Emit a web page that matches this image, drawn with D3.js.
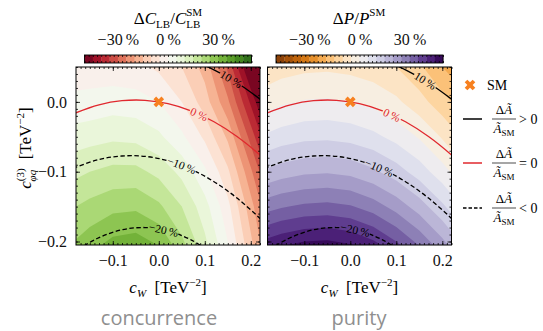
<!DOCTYPE html>
<html>
<head>
<meta charset="utf-8">
<script src="https://cdn.jsdelivr.net/npm/d3@7"></script>
<style>
  body { margin: 0; background: #fff; }
  text { font-family: "Liberation Serif", serif; }
</style>
</head>
<body>
<svg id="chart" width="543" height="331"></svg>
<script>
// sample grid (TeV^-2) for the filled maps
const cWGrid = [-0.2, -0.15, -0.1, -0.05, 0, 0.05, 0.1, 0.15, 0.2, 0.25];
const cPhiGrid = [0.1, 0.05, 0, -0.05, -0.1, -0.15, -0.2, -0.25];

// ΔC_LB / C_LB^SM in %, one row per cPhiGrid entry
const concurrenceGrid = [
  [-8, -8.5, -9.5, -11, -13, -17, -26, -42, -65, -90],
  [-2.5, -2.5, -3, -3.5, -6, -10, -17, -31, -52, -75],
  [1, 1.5, 2.5, 2, 0, -5, -12.5, -24, -41, -60],
  [7, 8, 9, 8.5, 6, 1, -6, -16, -32, -49],
  [13, 15, 16.5, 16.5, 13.5, 8.5, 1, -9, -24, -40],
  [19, 21.5, 23.5, 24, 21, 15, 7, -3.5, -18, -33],
  [24, 27.5, 31, 32, 29, 21, 11, 0, -14, -29],
  [29, 33.5, 38, 39.5, 36.5, 28, 16.5, 4, -10, -25]
];

// ΔP / P^SM in %
const purityGrid = [
  [-13.2, -12.0, -11.3, -11.1, -11.5, -12.5, -14.5, -18, -24, -30],
  [-8.8, -7.1, -6.2, -5.9, -6.5, -7.7, -10, -14, -20, -25],
  [-2.9, -0.8, 0.4, 0.7, 0.0, -1.5, -4, -8, -13, -18],
  [5, 7.3, 8.7, 9, 8.2, 6.3, 3.3, -0.5, -5.5, -11],
  [15, 17.5, 19, 19.5, 18.5, 16, 12.3, 7.6, 2, -4],
  [27, 29.5, 31, 31.5, 30.5, 27.5, 23, 17.5, 11, 4],
  [40, 43, 45, 45.5, 44, 40.5, 35, 28.5, 21, 13],
  [53, 57, 59, 60, 58, 54.5, 48.5, 41, 32.5, 23.5]
];

// ΔÃ/Ã_SM contour lines
const plus10CW = [0.07, 0.12, 0.17, 0.22, 0.25];
const plus10C = [0.060, 0.046, 0.0275, 0.004, -0.012];
const zeroCW = [-0.2, -0.18, -0.13, -0.08, -0.03, 0.02, 0.07, 0.12, 0.17, 0.22, 0.25];
const zeroC = [-0.0216, -0.0156, -0.0042, 0.0017, 0.0023, -0.0026, -0.0129, -0.0285, -0.0496, -0.076, -0.0945];
const minus10CW = [-0.2, -0.18, -0.13, -0.08, -0.03, 0.02, 0.07, 0.12, 0.17, 0.22, 0.25];
const minus10C = [-0.0995, -0.0936, -0.0826, -0.0775, -0.078, -0.0844, -0.0964, -0.1143, -0.1378, -0.167, -0.1875];
const minus20CW = [-0.2, -0.18, -0.13, -0.08, -0.03, 0.02, 0.07, 0.12];
const minus20C = [-0.2236, -0.2136, -0.1944, -0.1832, -0.18, -0.1848, -0.1976, -0.2184];

const levelStep = 5;
const cbarTicks = [-30, 0, 30];
const xTicks = [-0.1, 0, 0.1, 0.2];
const yTicks = [0, -0.1, -0.2];

const concurrenceColors = d3.piecewise(d3.interpolateRgb, [
  "#67001f", "#b2182b", "#d6604d", "#f4a582", "#fddbc7", "#f7f7f7",
  "#e6f5d0", "#b8e186", "#7fbc41", "#4d9221", "#276419"]);
// orange for negative, purple for positive
const purityColors = t => d3.interpolatePuOr(1 - t);

const W = 184, H = 178, top0 = 67;
const svg = d3.select("#chart");

const x = d3.scaleLinear().domain([-0.18, 0.22]).range([0, W]);
const y = d3.scaleLinear().domain([-0.205, 0.05]).range([H, 0]);
const level = d3.scaleLinear().domain([-50, 50]).range([0, 1]);

const lines = [
  {cw: plus10CW, c: plus10C, label: "10\u2009%", stroke: "#000", dash: null},
  {cw: zeroCW, c: zeroC, label: "0\u2009%", stroke: "#e0282e", dash: null},
  {cw: minus10CW, c: minus10C, label: "\u221210\u2009%", stroke: "#000", dash: "4.5,2.5"},
  {cw: minus20CW, c: minus20C, label: "\u221220\u2009%", stroke: "#000", dash: "4.5,2.5"}
];

const panels = [
  {x0: 76, grid: concurrenceGrid, color: concurrenceColors, name: "concurrence",
   labelAt: [0.157, 0.087, 0.05, 0.01], nameX: 159},
  {x0: 267.5, grid: purityGrid, color: purityColors, name: "purity",
   labelAt: [0.163, 0.09, 0.063, 0.01], nameX: 359}
];

const thresholds = d3.range(-50, 50, levelStep);
const bandColor = (color, t) => color(level(t + levelStep / 2));

panels.forEach((p, pi) => {
  const g = svg.append("g").attr("transform", `translate(${p.x0},${top0})`);
  const defs = g.append("defs");
  defs.append("clipPath").attr("id", "clip" + pi)
    .append("rect").attr("width", W).attr("height", H);

  // filled bands
  const nx = cWGrid.length, ny = cPhiGrid.length;
  const th = thresholds.slice();
  th[0] = -1000;
  const contours = d3.contours().size([nx, ny]).thresholds(th)(p.grid.flat());
  const step = 0.05;
  const proj = d3.geoTransform({
    point(gx, gy) {
      this.stream.point(x(cWGrid[0] + (gx - 0.5) * step), y(cPhiGrid[0] - (gy - 0.5) * step));
    }
  });
  const path = d3.geoPath(proj);
  g.append("g").attr("clip-path", `url(#clip${pi})`)
    .selectAll("path").data(contours).join("path")
    .attr("d", path)
    .attr("fill", (d, i) => bandColor(p.color, thresholds[i]));

  // contour lines of ΔÃ/Ã_SM with label gaps
  const mask = defs.append("mask").attr("id", "mask" + pi)
    .attr("maskUnits", "userSpaceOnUse")
    .attr("x", -10).attr("y", -10).attr("width", W + 20).attr("height", H + 20);
  mask.append("rect").attr("x", -10).attr("y", -10).attr("width", W + 20).attr("height", H + 20).attr("fill", "#fff");

  const lineGen = d3.line().curve(d3.curveCatmullRom).x(d => x(d[0])).y(d => y(d[1]));
  const lg = g.append("g").attr("clip-path", `url(#clip${pi})`)
    .append("g").attr("mask", `url(#mask${pi})`);
  const paths = lg.selectAll("path").data(lines).join("path")
    .attr("d", d => lineGen(d.cw.map((v, i) => [v, d.c[i]])))
    .attr("fill", "none")
    .attr("stroke", d => d.stroke)
    .attr("stroke-width", 1.3)
    .attr("stroke-dasharray", d => d.dash);

  paths.each(function (d, i) {
    const node = this;
    const tx = x(p.labelAt[i]);
    const L = node.getTotalLength();
    let bestL = 0, bestD = Infinity;
    for (let l = 0; l <= L; l += 0.5) {
      const q = node.getPointAtLength(l);
      if (Math.abs(q.x - tx) < bestD) { bestD = Math.abs(q.x - tx); bestL = l; }
    }
    const q = node.getPointAtLength(bestL);
    const a = node.getPointAtLength(Math.max(0, bestL - 3));
    const b = node.getPointAtLength(Math.min(L, bestL + 3));
    const ang = Math.atan2(b.y - a.y, b.x - a.x) * 180 / Math.PI;
    const wLab = d.label.length * 5.3 + 4;
    mask.append("rect")
      .attr("x", -wLab / 2).attr("y", -6).attr("width", wLab).attr("height", 12)
      .attr("transform", `translate(${q.x},${q.y}) rotate(${ang})`)
      .attr("fill", "#000");
    g.append("text")
      .attr("transform", `translate(${q.x},${q.y}) rotate(${ang})`)
      .attr("text-anchor", "middle").attr("dy", "0.35em")
      .attr("font-size", 11.5)
      .attr("fill", d.stroke)
      .text(d.label);
  });

  // SM point
  g.append("path")
    .attr("d", d3.symbol(d3.symbolCross, 70))
    .attr("transform", `translate(${x(0)},${y(0)}) rotate(45)`)
    .attr("fill", "#f7801f");

  // axes with inward ticks on all sides
  const fmt = d3.format(".1f");
  const minorX = d3.range(-17, 23).map(i => i / 100);
  const minorY = d3.range(-20, 6).map(i => i / 100);
  const styleAxis = sel => {
    sel.select(".domain").remove();
    sel.selectAll("line").attr("stroke", "#000").attr("stroke-width", 0.8);
    sel.attr("font-family", null).attr("font-size", null);
    sel.selectAll("text").attr("font-size", 16).attr("fill", "#111");
  };
  g.append("g").attr("transform", `translate(0,${H})`)
    .call(d3.axisBottom(x).tickValues(minorX).tickSize(-2).tickFormat("")).call(styleAxis);
  g.append("g").attr("transform", `translate(0,${H})`)
    .call(d3.axisBottom(x).tickValues(xTicks).tickSize(-4).tickPadding(10).tickFormat(fmt)).call(styleAxis);
  g.append("g")
    .call(d3.axisTop(x).tickValues(minorX).tickSize(-2).tickFormat("")).call(styleAxis);
  g.append("g")
    .call(d3.axisTop(x).tickValues(xTicks).tickSize(-4).tickFormat("")).call(styleAxis);
  g.append("g")
    .call(d3.axisLeft(y).tickValues(minorY).tickSize(-2).tickFormat("")).call(styleAxis);
  g.append("g")
    .call(d3.axisLeft(y).tickValues(yTicks).tickSize(-4).tickPadding(9)
      .tickFormat(pi === 0 ? fmt : "")).call(styleAxis);
  g.append("g").attr("transform", `translate(${W},0)`)
    .call(d3.axisRight(y).tickValues(minorY).tickSize(-2).tickFormat("")).call(styleAxis);
  g.append("g").attr("transform", `translate(${W},0)`)
    .call(d3.axisRight(y).tickValues(yTicks).tickSize(-4).tickFormat("")).call(styleAxis);

  g.append("rect").attr("width", W).attr("height", H)
    .attr("fill", "none").attr("stroke", "#000").attr("stroke-width", 1);

  // x axis title
  const xt = g.append("text").attr("x", W / 2).attr("y", H + 48)
    .attr("text-anchor", "middle").attr("font-size", 17);
  xt.append("tspan").attr("font-style", "italic").text("c");
  xt.append("tspan").attr("font-style", "italic").attr("font-size", 11).attr("dy", 4).text("W");
  xt.append("tspan").attr("dy", -4).text("\u2002[TeV");
  xt.append("tspan").attr("font-size", 11).attr("dy", -7).text("\u22122");
  xt.append("tspan").attr("dy", 7).text("]");

  // observable name below
  svg.append("text").attr("x", p.nameX).attr("y", 325)
    .attr("text-anchor", "middle")
    .style("font-family", "'Open Sans', sans-serif")
    .attr("font-size", 20).attr("fill", "#8f8f8f")
    .text(p.name);

  // colorbar
  const cbW = 167, cbH = 8;
  const cbx = p.x0 + W / 2 - cbW / 2, cby = 55;
  const cb = d3.scaleLinear().domain([-50, 50]).range([0, cbW]);
  const cg = svg.append("g").attr("transform", `translate(${cbx},${cby})`);
  cg.selectAll("rect.band").data(thresholds).join("rect")
    .attr("class", "band")
    .attr("x", d => cb(d)).attr("width", cb(levelStep) - cb(0) + 0.3)
    .attr("height", cbH)
    .attr("fill", d => bandColor(p.color, d));
  const cbMinor = d3.range(-50, 52.5, 2.5);
  cg.append("g")
    .call(d3.axisTop(cb).tickValues(cbMinor).tickSize(-2).tickFormat("")).call(styleAxis);
  cg.append("g").attr("transform", `translate(0,${cbH})`)
    .call(d3.axisBottom(cb).tickValues(cbMinor).tickSize(-2).tickFormat("")).call(styleAxis);
  cg.append("g")
    .call(d3.axisTop(cb).tickValues(cbarTicks).tickSize(0).tickPadding(10)
      .tickFormat(d => d3.format("")(d).replace("-", "\u2212") + "\u2009%"))
    .call(styleAxis);
  cg.append("rect").attr("width", cbW).attr("height", cbH)
    .attr("fill", "none").attr("stroke", "#000").attr("stroke-width", 0.9);
});

// y axis title
const yt = svg.append("text").attr("transform", "translate(31,148) rotate(-90)")
  .attr("text-anchor", "middle").attr("font-size", 17);
yt.append("tspan").attr("font-style", "italic").text("c");
yt.append("tspan").attr("font-size", 11).attr("dy", -7).text("(3)");
yt.append("tspan").attr("font-style", "italic").attr("font-size", 11).attr("dx", -13).attr("dy", 12).text("\u03c6q");
yt.append("tspan").attr("dy", -5).attr("dx", 2).text("\u2002[TeV");
yt.append("tspan").attr("font-size", 11).attr("dy", -7).text("\u22122");
yt.append("tspan").attr("dy", 7).text("]");

// colorbar titles
const t1 = svg.append("text").attr("x", 168).attr("y", 24)
  .attr("text-anchor", "middle").attr("font-size", 17);
t1.append("tspan").text("\u0394");
t1.append("tspan").attr("font-style", "italic").text("C");
t1.append("tspan").attr("font-size", 11).attr("dy", 4).text("LB");
t1.append("tspan").attr("dy", -4).text("/");
t1.append("tspan").attr("font-style", "italic").text("C");
t1.append("tspan").attr("font-size", 11).attr("dy", -8).text("SM");
t1.append("tspan").attr("font-size", 11).attr("dx", -16).attr("dy", 12).text("LB");

const t2 = svg.append("text").attr("x", 359).attr("y", 24)
  .attr("text-anchor", "middle").attr("font-size", 17);
t2.append("tspan").text("\u0394");
t2.append("tspan").attr("font-style", "italic").text("P");
t2.append("tspan").text("/");
t2.append("tspan").attr("font-style", "italic").text("P");
t2.append("tspan").attr("font-size", 11).attr("dy", -8).text("SM");

// legend
const legend = svg.append("g");
legend.append("path")
  .attr("d", d3.symbol(d3.symbolCross, 70))
  .attr("transform", "translate(470,85) rotate(45)")
  .attr("fill", "#f7801f");
legend.append("text").attr("x", 487).attr("y", 90).attr("font-size", 14).text("SM");

const legendRows = [
  {y: 119, stroke: "#000", dash: null, rel: "> 0"},
  {y: 163, stroke: "#e0282e", dash: null, rel: "= 0"},
  {y: 208, stroke: "#000", dash: "3.5,2", rel: "< 0"}
];
legendRows.forEach(r => {
  legend.append("line").attr("x1", 463).attr("x2", 482).attr("y1", r.y).attr("y2", r.y)
    .attr("stroke", r.stroke).attr("stroke-width", 1.5).attr("stroke-dasharray", r.dash);
  const num = legend.append("text").attr("x", 504).attr("y", r.y - 5)
    .attr("text-anchor", "middle").attr("font-size", 13);
  num.append("tspan").text("\u0394");
  num.append("tspan").attr("font-style", "italic").text("\u00c3");
  legend.append("line").attr("x1", 492).attr("x2", 516).attr("y1", r.y).attr("y2", r.y)
    .attr("stroke", "#000").attr("stroke-width", 0.7);
  const den = legend.append("text").attr("x", 504).attr("y", r.y + 14)
    .attr("text-anchor", "middle").attr("font-size", 13);
  den.append("tspan").attr("font-style", "italic").text("\u00c3");
  den.append("tspan").attr("font-size", 9).attr("dy", 3).text("SM");
  legend.append("text").attr("x", 519).attr("y", r.y + 4.5).attr("font-size", 14).text(r.rel);
});
</script>
</body>
</html>
